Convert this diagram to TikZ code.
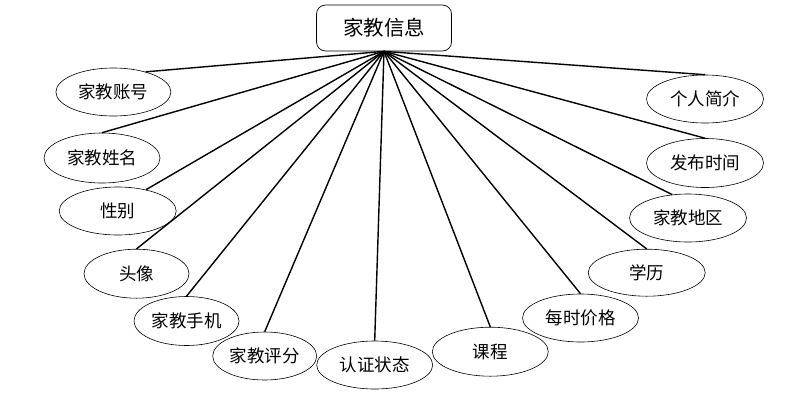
\documentclass[tikz,border=0pt]{standalone}
\usepackage{fontspec}
\newfontfamily\cjk{Noto Sans CJK SC}
\usetikzlibrary{shapes.geometric}
\begin{document}
\begin{tikzpicture}[x=1pt,y=-1pt,
  attr/.style={ellipse, draw, line width=0.6pt, inner sep=0pt, minimum width=116pt, minimum height=48pt, font=\cjk\fontsize{17.5}{17.5}\selectfont},
  link/.style={line width=1.4pt},
  topbox/.style={draw, line width=0.7pt, rounded corners=9pt, inner sep=0pt, minimum width=135pt, minimum height=46pt, font=\cjk\fontsize{20.5}{20.5}\selectfont}]
\useasboundingbox (0,0) rectangle (806,400);
\node[topbox] (top) at (384,28) {家教信息};
\node[attr, minimum width=115pt] (a1) at (113.4,92) {家教账号};
\node[attr, minimum height=50pt] (a2) at (102,158) {家教姓名};
\node[attr, minimum width=117pt] (a3) at (117.7,211) {性别};
\node[attr, minimum width=105pt, minimum height=49pt] (a4) at (136.5,273.7) {头像};
\node[attr, minimum width=105pt, minimum height=49pt] (a5) at (186.5,321) {家教手机};
\node[attr, minimum width=104pt] (a6) at (264.7,356) {家教评分};
\node[attr] (a7) at (374.7,365) {认证状态};
\node[attr, minimum height=49pt] (a8) at (490.3,351.7) {课程};
\node[attr] (a9) at (580.5,318) {每时价格};
\node[attr, minimum width=117pt, minimum height=47pt] (a10) at (646.7,272.7) {学历};
\node[attr, minimum width=117pt] (a11) at (688,218) {家教地区};
\node[attr, minimum width=117pt, minimum height=49pt] (a12) at (705,163) {发布时间};
\node[attr, minimum width=117pt] (a13) at (705,99) {个人简介};
\draw[link] (top.south) -- (a1.32);
\draw[link] (top.south) -- (a2.north);
\draw[link] (top.south) -- (a3.37);
\draw[link] (top.south) -- (a4.north);
\draw[link] (top.south) -- (a5.north);
\draw[link] (top.south) -- (a6.north);
\draw[link] (top.south) -- (a7.north);
\draw[link] (top.south) -- (a8.north);
\draw[link] (top.south) -- (a9.north);
\draw[link] (top.south) -- (a10.north);
\draw[link] (top.south) -- (a11.124);
\draw[link] (top.south) -- (a12.north);
\draw[link] (top.south) -- (a13.north);
\end{tikzpicture}
\end{document}
